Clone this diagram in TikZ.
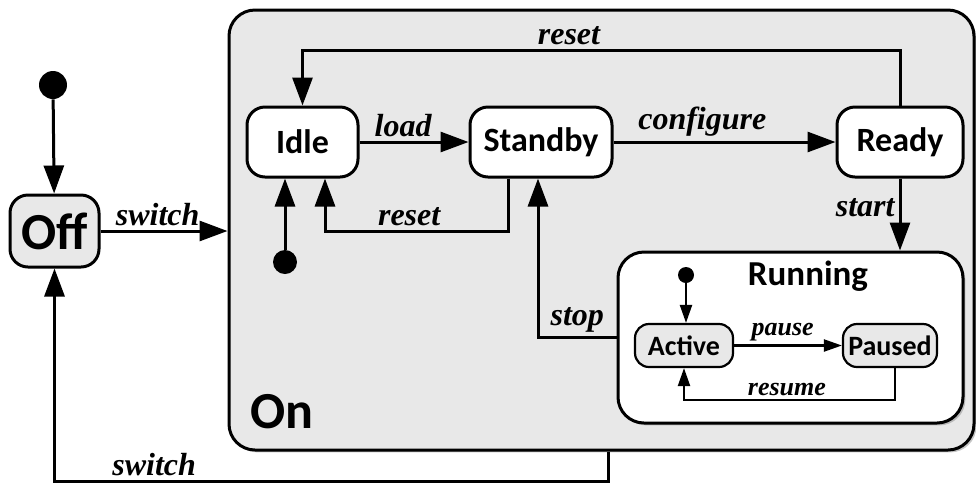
\documentclass[tikz,border=0pt]{standalone}
\usepackage{fontspec}
\setmainfont{Liberation Serif}
\newfontfamily\statefont{Carlito}
\usetikzlibrary{arrows.meta,shadows}

\definecolor{boxgray}{HTML}{E8E8E8}

\begin{document}
\begin{tikzpicture}[
  x=0.5pt, y=-0.5pt,
  arrow/.style={-{Triangle[length=14pt,width=10pt]}, line width=1.5pt},
  smallarrow/.style={-{Triangle[length=9pt,width=6pt]}, line width=1.1pt},
  trans/.style={font=\fontsize{16}{18}\selectfont\bfseries\itshape, inner sep=2pt},
  smalltrans/.style={font=\fontsize{13}{15}\selectfont\bfseries\itshape, inner sep=1.5pt},
  state/.style={draw, line width=1.5pt, rounded corners=9pt, fill=white,
    inner sep=0pt, font=\statefont\fontsize{17}{19}\selectfont\bfseries},
  substate/.style={draw, line width=1.1pt, rounded corners=7pt, fill=boxgray,
    inner sep=0pt, minimum height=21.5pt, font=\statefont\fontsize{14}{16}\selectfont\bfseries},
  initial/.style={circle, fill=black, inner sep=0pt},
  shade/.style={drop shadow={shadow xshift=1.2pt, shadow yshift=-1.2pt, opacity=.45}},
]
\useasboundingbox (0,0) rectangle (976,484);

%% composite states
\node[draw, line width=1.5pt, rounded corners=13pt, fill=boxgray, shade,
  minimum width=372.5pt, minimum height=220pt] (on) at (601.5,230) {};
\node[font=\statefont\fontsize{26}{28}\selectfont\bfseries] (onlabel) at (282,412) {On};

\node[draw, line width=1.5pt, rounded corners=13pt, fill=white, shade,
  minimum width=172.5pt, minimum height=85.5pt] (running) at (790.5,337.5) {};
\node[font=\statefont\fontsize{17.5}{19}\selectfont\bfseries] (runlabel) at (808,276) {Running};

%% simple states
\node[state, fill=boxgray, minimum width=44.5pt, minimum height=36pt,
  font=\statefont\fontsize{26}{28}\selectfont\bfseries] (off) at (54.5,231) {Off};
\node[state, minimum width=55.5pt, minimum height=35pt] (idle) at (302.5,142) {Idle};
\node[state, minimum width=71pt, minimum height=35pt] (standby) at (541,142) {Standby};
\node[state, minimum width=63pt, minimum height=35pt] (ready) at (900,142) {Ready};
\node[substate, minimum width=49pt] (active) at (684,345.5) {Active};
\node[substate, minimum width=47pt] (paused) at (890,345.5) {Paused};

%% initial pseudostates
\node[initial, minimum size=14pt] (init) at (53,85) {};
\node[initial, minimum size=12pt] (idleinit) at (285,262) {};
\node[initial, minimum size=8pt] (runinit) at (686,275) {};

%% transitions
\draw[arrow] (init) -- (off);
\draw[arrow] (off) -- (on.west |- off)
  node[trans, above, pos=0.45] {switch};
\draw[arrow] ([xshift=3.25pt]on.south) -- ++(0,30) -| (off.south)
  node[trans, above, pos=0.41] {switch};

\draw[arrow] (idleinit) -- (idleinit |- idle.south);
\draw[arrow] (idle) -- (standby)
  node[trans, above, pos=0.4] {load};
\draw[arrow] (standby) -- (ready)
  node[trans, above, pos=0.4] {configure};
\draw[arrow] (ready.north) -- ++(0,-55) -| (idle.north)
  node[trans, above, pos=0.277] {reset};
\draw[arrow] ([xshift=-16.5pt]standby.south) -- ++(0,53) -| ([xshift=11.25pt]idle.south)
  node[trans, above, pos=0.27] {reset};
\draw[arrow] (ready.south) -- (ready.south |- running.north)
  node[trans, left, pos=0.4] {start};
\draw[arrow] (running.west) -| ([xshift=-1.5pt]standby.south)
  node[trans, above, pos=0.25] {stop};

\draw[smallarrow] (runinit) -- (runinit |- active.north);
\draw[smallarrow] (active) -- (paused)
  node[smalltrans, above, pos=0.45] {pause};
\draw[smallarrow] ([xshift=2.5pt]paused.south) -- ++(0,32) -| (active.south)
  node[smalltrans, above, pos=0.256] {resume};

\end{tikzpicture}
\end{document}
